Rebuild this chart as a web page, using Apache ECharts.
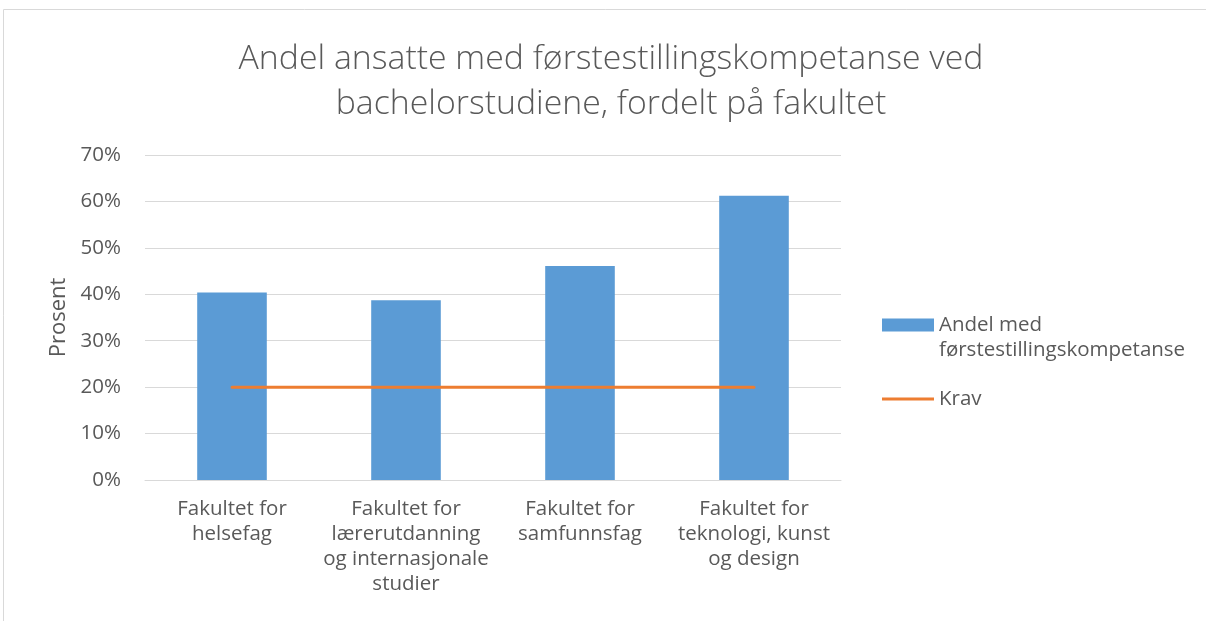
<!DOCTYPE html>
<html>
<head>
<meta charset="utf-8">
<script src="https://cdn.jsdelivr.net/npm/echarts@6/dist/echarts.min.js"></script>
<style>
  html, body { margin: 0; padding: 0; background: #fff; }
  #chart { width: 1206px; height: 621px; }
</style>
</head>
<body>
<div id="chart"></div>
<script>
// fakulteter (kategorier)
const fakulteter = [
    'Fakultet for\nhelsefag',
    'Fakultet for\nlærerutdanning\nog internasjonale\nstudier',
    'Fakultet for\nsamfunnsfag',
    'Fakultet for\nteknologi, kunst\nog design'
];
// andel med førstestillingskompetanse, prosent
const andel = [40.4, 38.7, 46.1, 61.2];
// krav, prosent
const krav = [20, 20, 20, 20];
const yTicks = [0, 10, 20, 30, 40, 50, 60, 70];

const font = '"Open Sans", "Noto Sans", sans-serif';
const grey = '#595959';

const chart = echarts.init(document.getElementById('chart'));
chart.setOption({
    animation: false,
    textStyle: { fontFamily: font },
    title: {
        text: 'Andel ansatte med førstestillingskompetanse ved\nbachelorstudiene, fordelt på fakultet',
        left: 606,
        textAlign: 'center',
        top: 32,
        textStyle: { fontFamily: font, fontSize: 33.8, fontWeight: 300, color: grey, lineHeight: 45 }
    },
    graphic: [{
        type: 'rect',
        shape: { x: 3.5, y: 9.5, width: 1300, height: 700 },
        style: { fill: 'none', stroke: '#d9d9d9', lineWidth: 1 },
        silent: true
    }],
    grid: { left: 145, top: 155, width: 696, height: 325 },
    legend: [{
        orient: 'vertical',
        left: 882,
        top: 287.5,
        padding: 0,
        itemWidth: 52,
        itemHeight: 13,
        data: [{ name: 'Andel med førstestillingskompetanse', icon: 'rect' }],
        formatter: () => ' \nAndel med\nførstestillingskompetanse',
        textStyle: { fontFamily: font, fontSize: 20.5, color: grey, lineHeight: 25 }
    }, {
        orient: 'vertical',
        left: 882,
        top: 386.5,
        padding: 0,
        itemWidth: 52,
        itemHeight: 3,
        data: [{ name: 'Krav', icon: 'rect' }],
        textStyle: { fontFamily: font, fontSize: 20.5, color: grey, lineHeight: 25 }
    }],
    xAxis: {
        type: 'category',
        data: fakulteter,
        axisLine: { lineStyle: { color: '#d9d9d9', width: 1 } },
        axisTick: { show: false },
        axisLabel: { color: grey, fontSize: 20.5, lineHeight: 25, margin: 17, interval: 0 }
    },
    yAxis: {
        type: 'value',
        min: yTicks[0],
        max: yTicks[yTicks.length - 1],
        interval: 10,
        name: 'Prosent',
        nameLocation: 'middle',
        nameGap: 58,
        nameTextStyle: { color: grey, fontSize: 22, fontFamily: font },
        axisLine: { show: false },
        axisTick: { show: false },
        axisLabel: { color: grey, fontSize: 20.5, margin: 24, formatter: '{value}%' },
        splitLine: { lineStyle: { color: '#d9d9d9', width: 1 } }
    },
    series: [{
        name: 'Andel med førstestillingskompetanse',
        type: 'bar',
        data: andel,
        barWidth: '40%',
        itemStyle: { color: '#5b9bd5' }
    }, {
        name: 'Krav',
        type: 'line',
        data: krav,
        symbol: 'none',
        lineStyle: { color: '#ed7d31', width: 3, cap: 'round' },
        itemStyle: { color: '#ed7d31' }
    }]
});
</script>
</body>
</html>
